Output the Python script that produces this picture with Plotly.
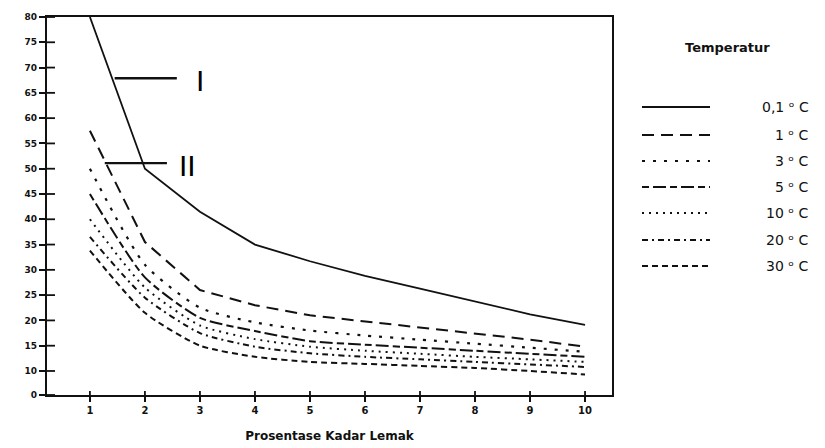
import plotly.graph_objects as go

x_vals = [1, 2, 3, 4, 5, 6, 7, 8, 9, 10]
t_01 = [80, 50, 41.5, 35, 31.7, 28.8, 26.3, 23.7, 21.2, 19.1]
t_1 = [57.5, 35.5, 26, 23, 21, 19.8, 18.5, 17.3, 16.2, 14.8]
t_3 = [50, 31, 22.5, 19.6, 18, 17, 16.2, 15.4, 14.6, 13.8]
t_5 = [45, 28.5, 20.5, 17.9, 15.9, 15.2, 14.6, 14, 13.4, 12.8]
t_10 = [40, 26.5, 19, 16.3, 14.8, 14, 13.4, 12.8, 12.3, 11.8]
t_20 = [36.5, 24.5, 17.5, 14.8, 13.5, 12.8, 12.3, 11.8, 11.3, 10.8]
t_30 = [33.8, 21.5, 15, 12.8, 11.8, 11.4, 11, 10.6, 10, 9.3]

series_names = ["0,1", "1", "3", "5", "10", "20", "30"]
series_vals = [t_01, t_1, t_3, t_5, t_10, t_20, t_30]
dashes = ["solid", "12px,7px", "3px,8px", "7px,4px,13px,4px", "2px,5px", "6px,4px,2px,4px", "6px,4px"]
widths = [1.8, 2, 2.2, 2, 2, 2, 2]

y_ticks = [5.25, 10, 15, 20, 25, 30, 35, 40, 45, 50, 55, 60, 65, 70, 75, 80]
y_tick_text = ["0", "10", "15", "20", "25", "30", "35", "40", "45", "50", "55", "60", "65", "70", "75", "80"]

marker_I = {"x": [1.45, 2.58], "y": [67.9, 67.9], "label": "I", "tx": 3.0, "ty": 67.4}
marker_II = {"x": [1.27, 2.4], "y": [51.1, 51.1], "label": "II", "tx": 2.78, "ty": 50.6}

INK = "#111111"
X_RANGE = [0.22, 10.49]
Y_RANGE = [5.25, 80]
# page-pixel geometry of the plot area (figure is offset 8px by the page body margin)
PX0, PX1, PY0, PY1 = 47, 612, 17, 395
OFF = 8
PW, PH = PX1 - PX0, PY1 - PY0

def px(xp):
    return (xp - PX0) / PW

def py(yp):
    return (PY1 - yp) / PH

fig = go.Figure()
for i, (name, vals) in enumerate(zip(series_names, series_vals)):
    fig.add_trace(go.Scatter(
        x=x_vals, y=vals, mode="lines", name=name,
        line=dict(color=INK, width=widths[i], dash=dashes[i],
                  shape="linear" if i < 2 else "spline", smoothing=0.6),
        showlegend=False, cliponaxis=False,
    ))

for m in (marker_I, marker_II):
    fig.add_trace(go.Scatter(x=m["x"], y=m["y"], mode="lines",
                             line=dict(color=INK, width=2.4), showlegend=False))
    fig.add_annotation(x=m["tx"], y=m["ty"], text=m["label"], showarrow=False,
                       font=dict(family="Liberation Sans", size=30, color="#000000"),
                       xanchor="center", yanchor="middle")

# inner halves of the tick marks, so ticks cross the axis lines as in the reference
for xv in x_vals:
    fig.add_shape(type="line", xref="x", yref="paper", x0=xv, x1=xv, y0=0, y1=4 / PH,
                  line=dict(color=INK, width=1.8))
for yv in y_ticks:
    fig.add_shape(type="line", xref="paper", yref="y", x0=0, x1=8 / PW, y0=yv, y1=yv,
                  line=dict(color=INK, width=1.8))

# custom legend (paper coordinates)
fig.add_annotation(xref="paper", yref="paper", x=px(727), y=py(48),
                   text="Temperatur", showarrow=False, xanchor="center", yanchor="middle",
                   font=dict(family="DejaVu Sans", size=13, color=INK, weight="bold"))
row_y = [107, 135, 161, 187, 213, 240, 266]
for i, name in enumerate(series_names):
    yy = py(row_y[i])
    fig.add_shape(type="line", xref="paper", yref="paper",
                  x0=px(642), x1=px(710), y0=yy, y1=yy,
                  line=dict(color=INK, width=2.2, dash=dashes[i]))
    fig.add_annotation(xref="paper", yref="paper", x=px(811), y=yy,
                       text=name + " \u1d52 C", showarrow=False,
                       xanchor="right", yanchor="middle",
                       font=dict(family="DejaVu Sans", size=14, color=INK))

fig.update_layout(
    width=825 - OFF, height=448 - OFF,
    margin=dict(l=PX0 - OFF, r=825 - PX1, t=PY0 - OFF, b=448 - PY1, autoexpand=False),
    paper_bgcolor="white", plot_bgcolor="white",
    font=dict(family="DejaVu Sans", color=INK),
    xaxis=dict(range=X_RANGE, tickvals=x_vals, ticktext=[str(v) for v in x_vals],
               automargin=False,
               showgrid=False, zeroline=False, showline=True, linecolor=INK, linewidth=2.2,
               mirror=True, ticks="outside", ticklen=5, tickwidth=1.8, tickcolor=INK,
               tickfont=dict(family="DejaVu Sans", size=10, color=INK, weight="bold"),
               title=dict(text="Prosentase Kadar Lemak", standoff=17,
                          font=dict(family="DejaVu Sans", size=12, color=INK, weight="bold"))),
    yaxis=dict(range=Y_RANGE, tickvals=y_ticks, ticktext=y_tick_text, automargin=False,
               showgrid=False, zeroline=False, showline=True, linecolor=INK, linewidth=2.2,
               mirror=True, ticks="outside", ticklen=6, tickwidth=1.8, tickcolor=INK,
               tickfont=dict(family="DejaVu Sans", size=9, color=INK, weight="bold")),
)

fig.write_html("out.html")
